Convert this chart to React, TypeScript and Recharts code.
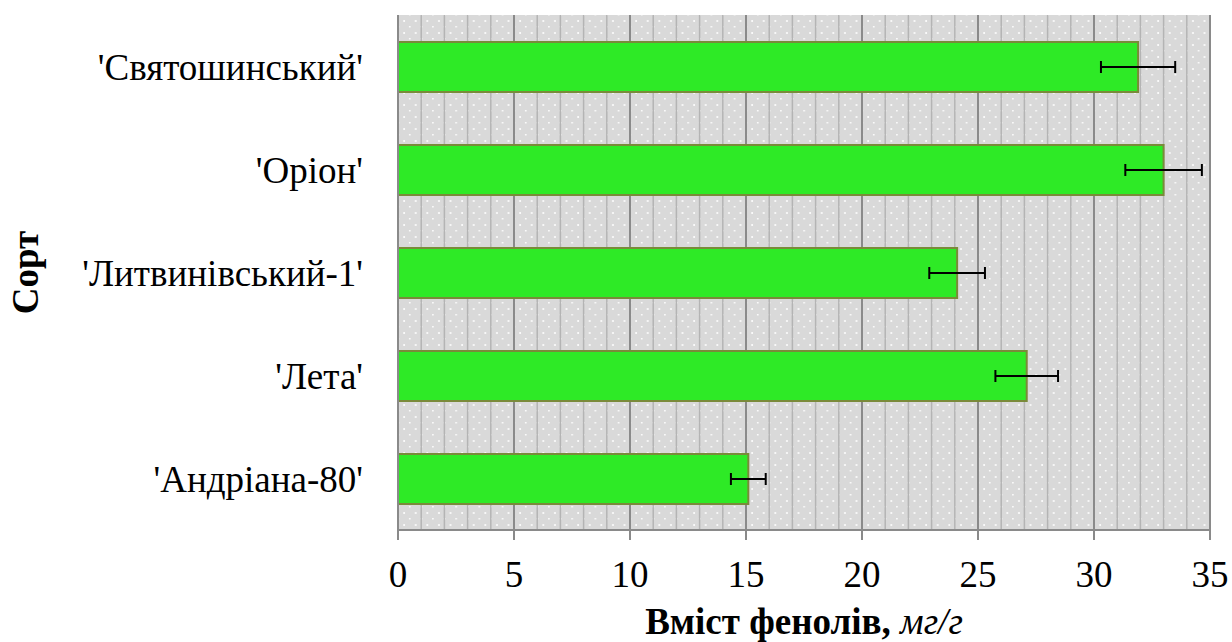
import { BarChart, Bar, XAxis, YAxis, CartesianGrid, ErrorBar, Label } from 'recharts'

const varieties = ["'Святошинський'", "'Оріон'", "'Литвинівський-1'", "'Лета'", "'Андріана-80'"]
const phenols = [31.9, 33.0, 24.1, 27.1, 15.1]
const errors = [1.6, 1.65, 1.2, 1.35, 0.75]
// every unit gets a grid line, every fifth one a label
const gridTicks = Array.from({ length: 36 }, (_, i) => i)

const data = varieties.map((name, i) => ({ name, value: phenols[i], err: errors[i] }))

const FONT = "'Liberation Serif', 'Times New Roman', serif"
const AXIS = '#8a8a8a'
const TICK_GAP = 30

const XTick = ({ x, y, payload }: any) => {
  if (payload.value % 5 !== 0) return null
  return (
    <g>
      <line x1={x} x2={x} y1={y - TICK_GAP} y2={y - TICK_GAP + 10} stroke={AXIS} strokeWidth={2} />
      <text x={x} y={y + 27} textAnchor="middle" fontFamily={FONT} fontSize={37} fill="#000">
        {payload.value}
      </text>
    </g>
  )
}

const gridLine = (p: any) => {
  const major = p.index % 5 === 0
  return (
    <line
      key={p.key}
      x1={p.x1}
      x2={p.x2}
      y1={p.y1}
      y2={p.y2}
      stroke={major ? AXIS : '#b4b4b4'}
      strokeWidth={major ? 2 : 1.5}
    />
  )
}

export default function App() {
  return (
    <div style={{ position: 'absolute', left: 0, top: 0, background: '#fff' }}>
      <BarChart
        width={1232}
        height={642}
        data={data}
        layout="vertical"
        margin={{ top: 15, right: 22, bottom: 0, left: 0 }}
      >
        <defs>
          <pattern id="dots" width="11.6" height="12" patternUnits="userSpaceOnUse">
            <rect width="11.6" height="12" fill="#d9d9d9" />
            <rect x="3" y="2" width="1.5" height="1.5" fill="#ffffff" />
            <rect x="9" y="8" width="1.5" height="2" fill="#ffffff" />
          </pattern>
        </defs>
        <CartesianGrid horizontal={false} vertical={gridLine} fill="url(#dots)" fillOpacity={1} />
        <XAxis
          type="number"
          domain={[0, 35]}
          ticks={gridTicks}
          interval={0}
          height={112}
          tickSize={0}
          tickMargin={TICK_GAP}
          tickLine={false}
          stroke={AXIS}
          strokeWidth={2}
          tick={<XTick />}
        >
          <Label
            content={({ viewBox }: any) => (
              <text
                x={viewBox.x + viewBox.width / 2}
                y={viewBox.y + viewBox.height - 8}
                textAnchor="middle"
                fontFamily={FONT}
                fontSize={37}
                fill="#000"
              >
                <tspan fontWeight="bold">Вміст фенолів, </tspan>
                <tspan fontStyle="italic">мг/г</tspan>
              </text>
            )}
          />
        </XAxis>
        <YAxis
          type="category"
          dataKey="name"
          width={398}
          tickSize={0}
          tickLine={false}
          tickMargin={35}
          stroke={AXIS}
          strokeWidth={2}
          tick={{ fill: '#000', fontSize: 37, fontFamily: FONT }}
        >
          <Label
            content={({ viewBox }: any) => (
              <text
                x={0}
                y={0}
                transform={`translate(${viewBox.x + 38}, ${viewBox.y + viewBox.height / 2}) rotate(-90)`}
                textAnchor="middle"
                fontFamily={FONT}
                fontSize={37}
                fontWeight="bold"
                fill="#000"
              >
                Сорт
              </text>
            )}
          />
        </YAxis>
        <Bar dataKey="value" fill="#2eea26" stroke="#7a8a3a" strokeWidth={2} barSize={50} isAnimationActive={false}>
          <ErrorBar dataKey="err" direction="x" stroke="#000" strokeWidth={2} width={6} />
        </Bar>
      </BarChart>
    </div>
  )
}
